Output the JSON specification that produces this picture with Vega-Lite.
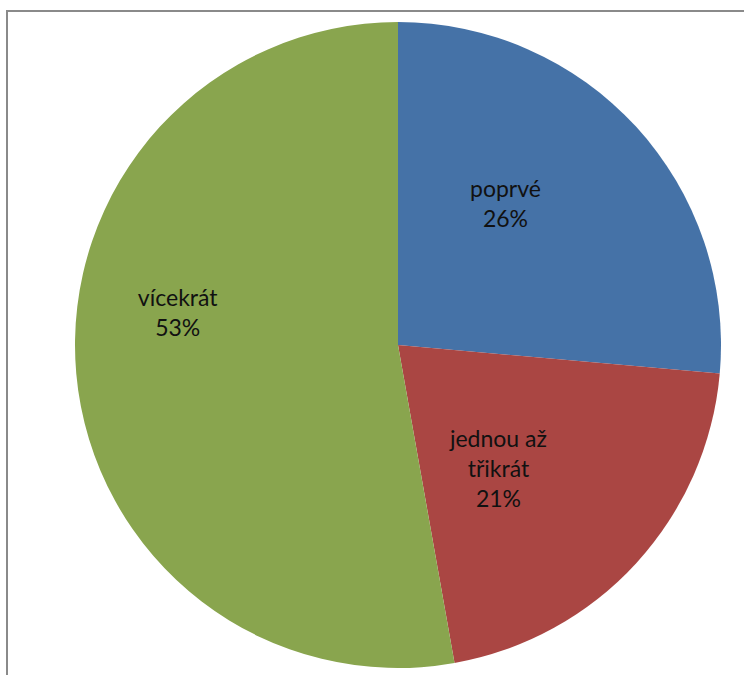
{
  "$schema": "https://vega.github.io/schema/vega-lite/v6.json",
  "width": 782,
  "height": 668,
  "autosize": {"type": "none"},
  "padding": {"left": 7, "top": 11, "right": 0, "bottom": 0},
  "background": "white",
  "view": {"stroke": "#8a8a8a", "strokeWidth": 2, "fill": "white"},
  "data": {
    "values": [
      {"idx": 1, "kategorie": "poprvé", "podil": 26.4},
      {"idx": 2, "kategorie": "jednou až\ntřikrát", "podil": 20.8},
      {"idx": 3, "kategorie": "vícekrát", "podil": 52.8}
    ]
  },
  "transform": [
    {"calculate": "datum.kategorie + '\\n' + format(datum.podil / 100, '.0%')", "as": "popisek"}
  ],
  "encoding": {
    "theta": {"field": "podil", "type": "quantitative", "stack": true},
    "order": {"field": "idx", "type": "quantitative", "sort": "ascending"}
  },
  "layer": [
    {
      "mark": {"type": "arc", "outerRadius": 323},
      "encoding": {
        "color": {
          "field": "kategorie",
          "type": "nominal",
          "scale": {
            "domain": ["poprvé", "jednou až\ntřikrát", "vícekrát"],
            "range": ["#4572A7", "#AA4643", "#89A54E"]
          },
          "legend": null
        }
      }
    },
    {
      "mark": {
        "type": "text",
        "radius": 185,
        "font": "Lato",
        "fontSize": 23,
        "lineHeight": 30,
        "lineBreak": "\n",
        "color": "#111111",
        "align": "center",
        "baseline": "middle",
        "dx": {"expr": "datum.idx == 1 ? -29 : -36"},
        "dy": {"expr": "datum.idx == 3 ? -62 : -30"}
      },
      "encoding": {
        "text": {"field": "popisek", "type": "nominal"}
      }
    }
  ]
}
